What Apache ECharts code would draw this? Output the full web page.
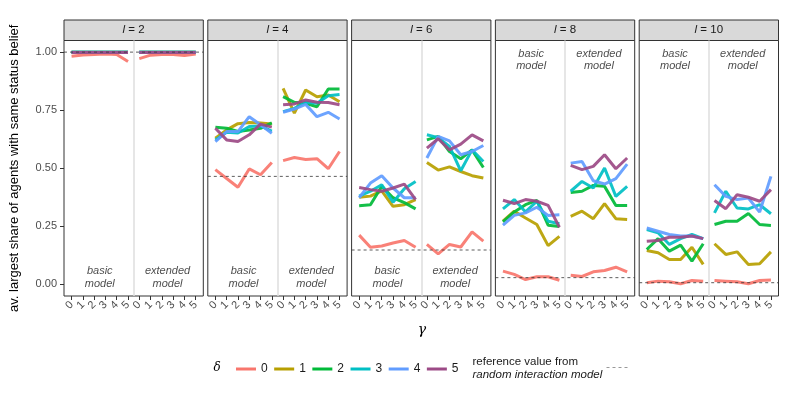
<!DOCTYPE html>
<html>
<head>
<meta charset="utf-8">
<script src="https://cdn.jsdelivr.net/npm/echarts@6/dist/echarts.min.js"></script>
<style>html,body{margin:0;padding:0;background:#fff}#c{width:800px;height:412px}</style>
</head>
<body>
<div id="c"></div>
<script>
// ---------------- data ----------------
const gammaLabels = ['0', '1', '2', '3', '4', '5'];
const deltaNames = ['0', '1', '2', '3', '4', '5'];
const lValues = [2, 4, 6, 8, 10];
const refValues = [1.0, 0.465, 0.148, 0.029, 0.007];
const yTicks = [0, 0.25, 0.5, 0.75, 1.0];

// rows = delta 0..5, columns = gamma 0..5
const l2_basic = [
  [0.982, 0.988, 0.990, 0.992, 0.990, 0.960],
  [0.999, 0.999, 0.999, 0.999, 0.999, 0.999],
  [0.999, 0.999, 0.999, 0.999, 0.999, 0.999],
  [0.999, 0.999, 0.999, 0.999, 0.999, 0.999],
  [0.999, 0.999, 0.999, 0.999, 0.999, 0.999],
  [0.998, 0.998, 0.998, 0.998, 0.998, 0.998]
];
const l2_extended = [
  [0.972, 0.987, 0.990, 0.990, 0.985, 0.992],
  [0.999, 0.999, 0.999, 0.999, 0.999, 0.999],
  [0.999, 0.999, 0.999, 0.999, 0.999, 0.999],
  [0.999, 0.999, 0.999, 0.999, 0.999, 0.999],
  [0.999, 0.999, 0.999, 0.999, 0.999, 0.999],
  [0.998, 0.998, 0.998, 0.998, 0.998, 0.998]
];
const l4_basic = [
  [0.494, 0.456, 0.418, 0.497, 0.472, 0.525],
  [0.629, 0.665, 0.692, 0.697, 0.695, 0.691],
  [0.677, 0.672, 0.658, 0.665, 0.672, 0.695],
  [0.622, 0.655, 0.652, 0.680, 0.682, 0.660],
  [0.615, 0.658, 0.658, 0.722, 0.687, 0.651],
  [0.672, 0.622, 0.615, 0.644, 0.690, 0.677]
];
const l4_extended = [
  [0.533, 0.546, 0.538, 0.541, 0.498, 0.572],
  [0.844, 0.737, 0.837, 0.808, 0.815, 0.786],
  [0.808, 0.784, 0.780, 0.765, 0.841, 0.841],
  [0.744, 0.758, 0.784, 0.780, 0.812, 0.818],
  [0.741, 0.755, 0.775, 0.722, 0.741, 0.712],
  [0.773, 0.777, 0.794, 0.784, 0.783, 0.773]
];
const l6_basic = [
  [0.212, 0.160, 0.165, 0.178, 0.189, 0.160],
  [0.375, 0.380, 0.403, 0.336, 0.343, 0.365],
  [0.339, 0.343, 0.422, 0.373, 0.352, 0.325],
  [0.380, 0.401, 0.429, 0.354, 0.412, 0.443],
  [0.373, 0.436, 0.468, 0.415, 0.373, 0.373],
  [0.417, 0.408, 0.401, 0.415, 0.432, 0.365]
];
const l6_extended = [
  [0.172, 0.131, 0.172, 0.161, 0.226, 0.186],
  [0.525, 0.492, 0.506, 0.486, 0.468, 0.458],
  [0.622, 0.637, 0.572, 0.541, 0.579, 0.503],
  [0.644, 0.632, 0.594, 0.489, 0.579, 0.529],
  [0.544, 0.637, 0.618, 0.558, 0.572, 0.598],
  [0.587, 0.627, 0.579, 0.604, 0.644, 0.618]
];
const l8_basic = [
  [0.057, 0.043, 0.021, 0.033, 0.033, 0.018],
  [0.272, 0.315, 0.286, 0.258, 0.167, 0.207],
  [0.269, 0.312, 0.343, 0.362, 0.255, 0.249],
  [0.325, 0.365, 0.312, 0.358, 0.272, 0.261],
  [0.255, 0.297, 0.308, 0.332, 0.297, 0.300],
  [0.362, 0.348, 0.365, 0.358, 0.340, 0.246]
];
const l8_extended = [
  [0.039, 0.034, 0.054, 0.060, 0.074, 0.054],
  [0.293, 0.315, 0.283, 0.348, 0.283, 0.279],
  [0.396, 0.401, 0.426, 0.422, 0.340, 0.340],
  [0.401, 0.443, 0.415, 0.501, 0.379, 0.422],
  [0.522, 0.529, 0.446, 0.432, 0.455, 0.518],
  [0.512, 0.494, 0.508, 0.558, 0.498, 0.544]
];
const l10_basic = [
  [0.007, 0.014, 0.011, 0.003, 0.017, 0.014],
  [0.146, 0.136, 0.107, 0.107, 0.160, 0.086],
  [0.150, 0.197, 0.143, 0.169, 0.100, 0.175],
  [0.236, 0.222, 0.172, 0.197, 0.215, 0.197],
  [0.243, 0.229, 0.215, 0.208, 0.208, 0.197],
  [0.186, 0.189, 0.203, 0.203, 0.208, 0.197]
];
const l10_extended = [
  [0.017, 0.014, 0.011, 0.003, 0.017, 0.019],
  [0.175, 0.129, 0.140, 0.086, 0.089, 0.140],
  [0.258, 0.272, 0.272, 0.305, 0.258, 0.254],
  [0.308, 0.401, 0.329, 0.325, 0.343, 0.304],
  [0.429, 0.379, 0.365, 0.372, 0.311, 0.465],
  [0.361, 0.326, 0.386, 0.375, 0.358, 0.408]
];
const basicPanels = [l2_basic, l4_basic, l6_basic, l8_basic, l10_basic];
const extendedPanels = [l2_extended, l4_extended, l6_extended, l8_extended, l10_extended];
const modelLabels = ['basic\nmodel', 'extended\nmodel'];
const labelAtTop = [false, false, false, true, true];

// ---------------- styles / layout ----------------
const colors = ['#F8766D', '#B79F00', '#00BA38', '#00BFC4', '#619CFF', '#9C4A86'];
const FONT = '"Liberation Sans", Arial, sans-serif';
const L0 = 64, STEP = 143.8, PW = 139.3, TOP = 40.5, PH = 255.5, STRIP_TOP = 20;
const XMIN = -0.67, XMAX = 11.67;
const xTickVals = [0, 1, 2, 3, 4, 5, 6, 7, 8, 9, 10, 11];

const grids = [], xAxes = [], yAxes = [], series = [], graphics = [];

lValues.forEach((l, g) => {
  const left = L0 + g * STEP;
  grids.push({ left: left, top: TOP, width: PW, height: PH, show: true,
    borderColor: '#333', borderWidth: 1, backgroundColor: '#fff' });
  xAxes.push({ type: 'value', gridIndex: g, min: XMIN, max: XMAX, position: 'bottom',
    axisLine: { show: false, onZero: false }, splitLine: { show: false },
    axisTick: { show: true, customValues: xTickVals, length: 4, lineStyle: { color: '#333' } },
    axisLabel: { customValues: xTickVals, formatter: v => gammaLabels[Math.round(v) % 6],
      rotate: 45, fontSize: 11, color: '#4d4d4d', fontFamily: FONT, margin: 7 } });
  yAxes.push({ type: 'value', gridIndex: g, min: -0.05, max: 1.05, position: 'left',
    axisLine: { show: false, onZero: false }, splitLine: { show: false },
    axisTick: { show: g === 0, customValues: yTicks, length: 4, lineStyle: { color: '#333' } },
    axisLabel: { show: g === 0, customValues: yTicks, formatter: v => v.toFixed(2),
      fontSize: 11, color: '#4d4d4d', fontFamily: FONT, margin: 7 },
    name: g === 0 ? 'av. largest share of agents with same status belief' : '',
    nameLocation: 'middle', nameGap: 43,
    nameTextStyle: { fontSize: 13, color: '#000', fontFamily: FONT } });

  // divider between sub-models
  series.push({ type: 'line', xAxisIndex: g, yAxisIndex: g, data: [], silent: true, z: 1,
    markLine: { silent: true, symbol: 'none', label: { show: false },
      lineStyle: { color: '#DEDEDE', width: 1.5, type: 'solid' },
      data: [{ xAxis: 5.5 }] } });

  // model labels
  const yl = labelAtTop[g] ? 0.966 : 0.03;
  series.push({ type: 'scatter', xAxisIndex: g, yAxisIndex: g, silent: true, z: 1,
    symbolSize: 1, itemStyle: { color: 'rgba(0,0,0,0)' },
    data: [[2.5, yl, modelLabels[0]], [8.5, yl, modelLabels[1]]],
    label: { show: true, position: 'inside', formatter: p => p.data[2],
      fontSize: 11, fontStyle: 'italic', color: '#1a1a1a', fontFamily: FONT, lineHeight: 12.6, align: 'center' } });

  // data lines
  [basicPanels[g], extendedPanels[g]].forEach((panel, m) => {
    panel.forEach((vals, d) => {
      series.push({ type: 'line', name: deltaNames[d], xAxisIndex: g, yAxisIndex: g,
        data: vals.map((v, i) => [i + 6 * m, v]), symbol: 'none', silent: true, z: 3,
        lineStyle: { color: colors[d], width: 3, opacity: 0.92 }, itemStyle: { color: colors[d] } });
    });
  });

  // reference line
  series.push({ type: 'line', name: 'ref', xAxisIndex: g, yAxisIndex: g, silent: true, z: 4,
    data: [[XMIN, refValues[g]], [XMAX, refValues[g]]], symbol: 'none',
    lineStyle: { color: '#333', width: 0.8, type: [3, 3] }, itemStyle: { color: '#999' } });

  // strip
  graphics.push({ type: 'rect', shape: { x: left, y: STRIP_TOP, width: PW, height: TOP - STRIP_TOP },
    style: { fill: '#D9D9D9', stroke: '#333', lineWidth: 1 }, silent: true });
  graphics.push({ type: 'text', x: left + PW / 2, y: (STRIP_TOP + TOP) / 2, silent: true,
    style: { text: '{i|l} = ' + l, align: 'center', verticalAlign: 'middle', fontSize: 11.5,
      fill: '#1a1a1a', fontFamily: FONT,
      rich: { i: { fontStyle: 'italic', fontSize: 11.5, fontFamily: FONT, fill: '#1a1a1a' } } } });
});

// axis title gamma, legend title delta, reference legend text
graphics.push({ type: 'text', x: 422, y: 330, silent: true,
  style: { text: 'γ', align: 'center', verticalAlign: 'middle', fontSize: 14, fontStyle: 'italic',
    fontFamily: '"DejaVu Serif", serif', fill: '#000' } });
graphics.push({ type: 'text', x: 217, y: 368, silent: true,
  style: { text: 'δ', align: 'center', verticalAlign: 'middle', fontSize: 12, fontStyle: 'italic',
    fontFamily: '"DejaVu Serif", serif', fill: '#000' } });
graphics.push({ type: 'text', x: 472.5, y: 368, silent: true,
  style: { text: '{a|reference value from}\n{b|random interaction model}', align: 'left', verticalAlign: 'middle',
    fontSize: 11.5, fontFamily: FONT, fill: '#1a1a1a',
    rich: { a: { fontSize: 11.5, lineHeight: 13, fontFamily: FONT, fill: '#1a1a1a' },
            b: { fontSize: 11.5, lineHeight: 13, fontStyle: 'italic', fontFamily: FONT, fill: '#1a1a1a' } } } });

const dashIcon = 'path://M0,0L3,0L3,1L0,1Z M6,0L9,0L9,1L6,1Z M12,0L15,0L15,1L12,1Z M18,0L21,0L21,1L18,1Z';

const option = {
  animation: false,
  grid: grids, xAxis: xAxes, yAxis: yAxes, series: series,
  graphic: graphics,
  legend: [
    { data: deltaNames, left: 236, top: 363, padding: 0, itemWidth: 20, itemHeight: 3, icon: 'rect',
      itemGap: 6.5, selectedMode: false,
      textStyle: { fontSize: 12, color: '#1a1a1a', fontFamily: FONT } },
    { data: [{ name: 'ref', icon: dashIcon }], left: 606.5, top: 367, padding: 0, itemWidth: 21, itemHeight: 1,
      selectedMode: false, formatter: () => '', textStyle: { fontSize: 1 } }
  ]
};
const chart = echarts.init(document.getElementById('c'), null, { renderer: 'canvas' });
chart.setOption(option);
</script>
</body>
</html>
